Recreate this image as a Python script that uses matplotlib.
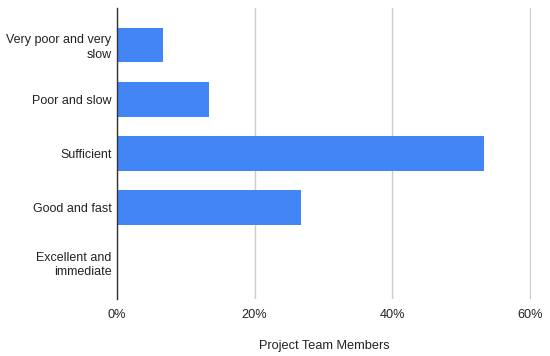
import matplotlib.pyplot as plt
from matplotlib.ticker import FuncFormatter

categories = ['Very poor and very\nslow', 'Poor and slow', 'Sufficient',
              'Good and fast', 'Excellent and\nimmediate']
shares = [6.7, 13.3, 53.3, 26.7, 0.0]
xticks = [0, 20, 40, 60]

plt.rcParams['font.family'] = ['Liberation Sans', 'DejaVu Sans']

fig = plt.figure(figsize=(5.5, 3.56), dpi=100)
ax = fig.add_axes([0.2127, 0.16, 0.7528, 0.8175])

pos = list(range(len(categories)))
ax.barh(pos, shares, height=0.64, color='#4285f4', zorder=3)
ax.set_ylim(4.68, -0.68)
ax.set_xlim(0, 60.15)
ax.set_xticks(xticks)
ax.xaxis.set_major_formatter(FuncFormatter(lambda v, p: '%d%%' % v))
ax.set_yticks(pos)
ax.set_yticklabels(categories, fontsize=9, color='#222222', linespacing=1.3)
ax.tick_params(axis='x', labelsize=9.2, colors='#222222', length=0, pad=7)
ax.tick_params(axis='y', length=0, pad=4)
ax.grid(axis='x', color='#cccccc', linewidth=1, zorder=0)
for s in ['top', 'right', 'bottom']:
    ax.spines[s].set_visible(False)
ax.spines['left'].set_color('#333333')
ax.spines['left'].set_linewidth(1)
ax.spines['left'].set_zorder(4)
ax.set_xlabel('Project Team Members', fontsize=9.2, color='#222222', labelpad=14)

fig.savefig('out.png', dpi=100)
